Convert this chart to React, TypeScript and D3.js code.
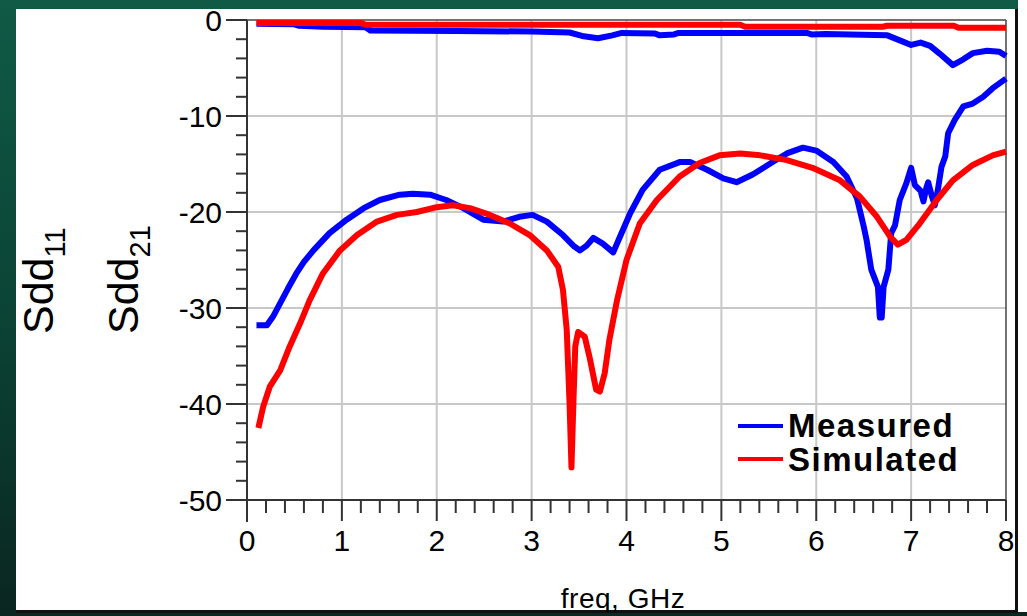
import React from "react";
import * as d3 from "d3";

// ---- data ----
const xTicks = [0, 1, 2, 3, 4, 5, 6, 7, 8];
const yTicks = [0, -10, -20, -30, -40, -50];

const sdd21SimF = [0.1, 1.2, 1.25, 5.2, 5.25, 6.7, 6.75, 7.45, 7.5, 8.0];
const sdd21SimV = [-0.3, -0.3, -0.5, -0.5, -0.7, -0.7, -0.6, -0.6, -0.8, -0.8];

const sdd21MeasF = [0.1, 0.5, 0.55, 0.8, 1.25, 1.3, 2.2, 3.0, 3.4, 3.55, 3.7, 3.85, 3.95, 4.3, 4.35, 4.5, 4.55, 5.0, 5.9, 5.95, 6.1, 6.75, 6.9, 7.0, 7.1, 7.2, 7.3, 7.44, 7.55, 7.65, 7.8, 7.93, 8.0];
const sdd21MeasV = [-0.4, -0.45, -0.6, -0.7, -0.75, -1.1, -1.15, -1.2, -1.3, -1.7, -1.9, -1.6, -1.35, -1.4, -1.6, -1.5, -1.35, -1.35, -1.35, -1.5, -1.45, -1.6, -2.2, -2.6, -2.35, -2.7, -3.5, -4.7, -4.1, -3.45, -3.2, -3.3, -3.75];

const sdd11MeasF = [0.1, 0.21, 0.28, 0.35, 0.43, 0.52, 0.6, 0.7, 0.87, 1.05, 1.23, 1.4, 1.61, 1.75, 1.93, 2.1, 2.28, 2.49, 2.7, 2.87, 3.01, 3.16, 3.33, 3.45, 3.51, 3.58, 3.65, 3.75, 3.86, 3.93, 4.04, 4.17, 4.35, 4.56, 4.67, 4.85, 5.02, 5.16, 5.33, 5.54, 5.69, 5.86, 6.0, 6.18, 6.32, 6.43, 6.5, 6.53, 6.58, 6.65, 6.67, 6.69, 6.71, 6.76, 6.79, 6.83, 6.88, 6.95, 7.0, 7.04, 7.1, 7.13, 7.16, 7.18, 7.22, 7.25, 7.28, 7.32, 7.36, 7.39, 7.46, 7.55, 7.65, 7.76, 7.86, 7.93, 8.0];
const sdd11MeasV = [-31.8, -31.8, -30.8, -29.5, -28, -26.4, -25.2, -24, -22.2, -20.8, -19.6, -18.75, -18.2, -18.1, -18.2, -18.75, -19.6, -20.8, -21, -20.5, -20.3, -21, -22.4, -23.6, -24, -23.5, -22.7, -23.3, -24.2, -22.6, -20.1, -17.7, -15.6, -14.8, -14.8, -15.6, -16.5, -16.9, -16.1, -14.8, -13.9, -13.3, -13.6, -14.8, -16.3, -18.6, -21.5, -22.9, -26, -27.8, -31, -31, -27.8, -26, -22.2, -21.4, -18.75, -17, -15.4, -17.2, -17.8, -18.9, -17.5, -16.9, -18.4, -19.3, -17.8, -15.3, -14.2, -11.8, -10.4, -9, -8.7, -8, -7.1, -6.6, -6.1];

const sdd11SimF = [0.12, 0.17, 0.24, 0.35, 0.45, 0.56, 0.66, 0.8, 0.98, 1.16, 1.37, 1.58, 1.79, 2.0, 2.17, 2.35, 2.56, 2.77, 2.98, 3.16, 3.28, 3.33, 3.37, 3.4, 3.42, 3.44, 3.46, 3.49, 3.56, 3.61, 3.68, 3.72, 3.77, 3.82, 3.9, 4.0, 4.14, 4.32, 4.56, 4.77, 4.98, 5.2, 5.41, 5.69, 5.96, 6.25, 6.46, 6.64, 6.78, 6.86, 6.95, 7.09, 7.27, 7.44, 7.65, 7.86, 8.0];
const sdd11SimV = [-42.5, -40.3, -38.2, -36.5, -34, -31.6, -29.2, -26.4, -24, -22.4, -21, -20.3, -20, -19.5, -19.3, -19.6, -20.3, -21.2, -22.4, -24, -25.7, -28.1, -32.3, -40, -46.6, -40, -34, -32.5, -33, -35.1, -38.5, -38.7, -36.8, -33.3, -29.2, -25, -21.2, -18.75, -16.3, -14.9, -14.1, -13.9, -14.1, -14.6, -15.4, -16.7, -18.4, -20.5, -22.6, -23.4, -22.9, -21.2, -18.75, -16.7, -15.1, -14.1, -13.7];

const legendLabels = ["Measured", "Simulated"];
const BLUE = "#0000ff";
const RED = "#ff0000";

export default function App() {
  const W = 1027, H = 616;
  const x = d3.scaleLinear().domain([0, 8]).range([247, 1006]);
  const y = d3.scaleLinear().domain([-50, 0]).range([500, 20]);
  const line = d3.line<[number, number]>().x(d => x(d[0])).y(d => y(d[1]));
  const zip = (f: number[], v: number[]) => f.map((fv, i) => [fv, v[i]] as [number, number]);

  const xMinor = d3.range(0, 8.001, 0.2);
  const yMinor = d3.range(-50, 0.001, 2);
  const font = "'Liberation Sans', Arial, sans-serif";

  const series = [
    { d: zip(sdd11MeasF, sdd11MeasV), c: BLUE },
    { d: zip(sdd21MeasF, sdd21MeasV), c: BLUE },
    { d: zip(sdd11SimF, sdd11SimV), c: RED },
    { d: zip(sdd21SimF, sdd21SimV), c: RED },
  ];

  return (
    <svg width={W} height={H} style={{ position: "absolute", left: 0, top: 0 }} fontFamily={font}>
      <defs>
        <linearGradient id="bg" x1="0" y1="0" x2="0" y2="1">
          <stop offset="0" stopColor="#105a46" />
          <stop offset="0.5" stopColor="#0b4436" />
          <stop offset="1" stopColor="#0a2620" />
        </linearGradient>
        <clipPath id="panel">
          <rect x={16} y={9} width={999} height={603} />
        </clipPath>
      </defs>
      <rect x={0} y={0} width={W} height={H} fill="url(#bg)" />
      <rect x={1018} y={0} width={9} height={612} fill="#ffffff" />
      <rect x={16} y={9} width={999} height={603} fill="#ffffff" />
      <rect x={1015} y={9} width={3} height={604} fill="#111" />
      <rect x={16} y={610} width={1002} height={3} fill="#111" />
      <g clipPath="url(#panel)">
        {/* grid */}
        {xTicks.slice(1, -1).map(t => (
          <line key={"gx" + t} x1={x(t)} x2={x(t)} y1={y(0)} y2={y(-50)} stroke="#c8c8c8" strokeWidth={2} />
        ))}
        {yTicks.slice(1, -1).map(t => (
          <line key={"gy" + t} x1={x(0)} x2={x(8)} y1={y(t)} y2={y(t)} stroke="#c8c8c8" strokeWidth={2} />
        ))}
        {/* frame */}
        <line x1={x(0)} x2={x(8)} y1={y(0)} y2={y(0)} stroke="#444" strokeWidth={1.5} />
        <line x1={x(8)} x2={x(8)} y1={y(0)} y2={y(-50)} stroke="#444" strokeWidth={1.5} />
        {/* y axis */}
        <line x1={x(0)} x2={x(0)} y1={y(0)} y2={y(-50) + 22} stroke="#333" strokeWidth={2} />
        {yMinor.map(t => (
          <line key={"ym" + t} x1={t % 10 === 0 ? 226 : 236} x2={x(0)} y1={y(t)} y2={y(t)} stroke="#333" strokeWidth={2} />
        ))}
        {yTicks.map(t => (
          <text key={"yl" + t} x={222} y={y(t)} dy="0.36em" textAnchor="end" fontSize={30} fill="#000">{t}</text>
        ))}
        {/* x axis */}
        <line x1={226} x2={x(8)} y1={y(-50)} y2={y(-50)} stroke="#333" strokeWidth={2} />
        {xMinor.map(t => {
          const major = Math.abs(t - Math.round(t)) < 1e-6;
          return <line key={"xm" + t} x1={x(t)} x2={x(t)} y1={y(-50)} y2={y(-50) + (major ? 21 : 13)} stroke="#333" strokeWidth={2} />;
        })}
        {xTicks.map(t => (
          <text key={"xl" + t} x={x(t)} y={551} textAnchor="middle" fontSize={30} fill="#000">{t}</text>
        ))}
        <text x={623} y={608} textAnchor="middle" fontSize={28} letterSpacing={0.5} fill="#000">freq, GHz</text>
        {/* y labels */}
        <text transform="translate(53,334) rotate(-90)" fontSize={43} fill="#000">
          Sdd<tspan fontSize={29} dy={12}>11</tspan>
        </text>
        <text transform="translate(138,334) rotate(-90)" fontSize={43} fill="#000">
          Sdd<tspan fontSize={29} dy={12}>21</tspan>
        </text>
        {/* curves */}
        {series.map((s, i) => (
          <path key={"s" + i} d={line(s.d) || ""} fill="none" stroke={s.c} strokeWidth={6} strokeLinejoin="round" />
        ))}
        {/* legend */}
        {legendLabels.map((l, i) => (
          <g key={l}>
            <line x1={738} x2={783} y1={426 + i * 33} y2={426 + i * 33} stroke={i === 0 ? BLUE : RED} strokeWidth={4} />
            <text x={788} y={437 + i * 34} fontSize={33} fontWeight="bold" letterSpacing={1.5} fill="#000">{l}</text>
          </g>
        ))}
      </g>
    </svg>
  );
}
